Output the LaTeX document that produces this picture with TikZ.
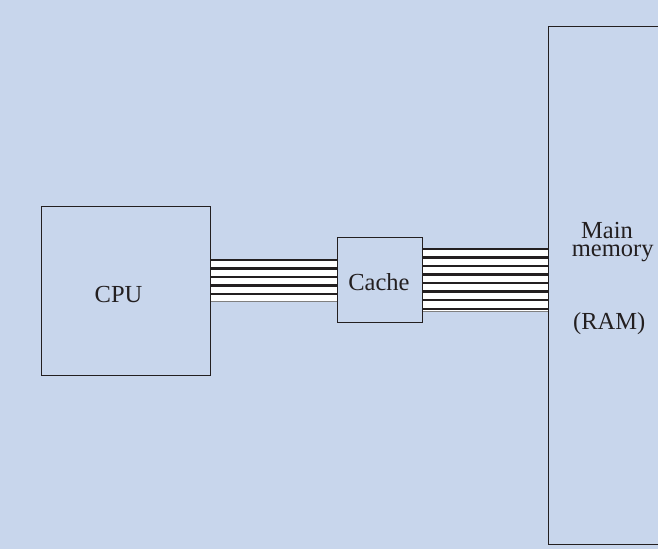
\documentclass[tikz,border=0pt]{standalone}
\usepackage{fontspec}
\setmainfont{Liberation Serif}
\definecolor{bg}{RGB}{200,214,236}
\definecolor{ink}{RGB}{35,31,32}
\definecolor{wiregray}{RGB}{128,128,128}
\begin{document}
\begin{tikzpicture}[x=1bp,y=-1bp,
  box/.style={draw=ink, line width=1bp, inner sep=0, outer sep=0},
  wire/.style={draw=ink, line width=2.3bp},
  edgewire/.style={draw=wiregray, line width=1.3bp},
  tx/.style={font=\fontsize{24.5bp}{24.5bp}\selectfont, text=ink, inner sep=0, anchor=base}]
\useasboundingbox (0,0) rectangle (658,549);
\fill[bg] (0,0) rectangle (658,549);
% boxes
\node[box, minimum width=169bp, minimum height=168.6bp] (cpu) at (125.8,291) {};
\node[box, minimum width=84.7bp, minimum height=84.7bp] (cache) at (379.65,280.35) {};
\node[box, minimum width=151.5bp, minimum height=517bp] (mem) at (624.25,285.5) {};
% bus CPU - cache
\coordinate (b1t) at (0,260);
\coordinate (b1b) at (0,301.5);
\fill[white] (cpu.east |- b1t) rectangle (cache.west |- b1b);
\foreach \y [count=\i] in {260,268.5,277,285.5,294} {
  \coordinate (w\i) at (0,\y);
  \draw[wire] (cpu.east |- w\i) -- (cache.west |- w\i);
}
\draw[edgewire] (cpu.east |- b1b) -- (cache.west |- b1b);
% bus cache - memory
\coordinate (b2t) at (0,249);
\coordinate (b2b) at (0,311.5);
\fill[white] (cache.east |- b2t) rectangle (mem.west |- b2b);
\foreach \y [count=\i] in {249,257.5,266,274.5,283,291.5,300,309} {
  \coordinate (v\i) at (0,\y);
  \draw[wire] (cache.east |- v\i) -- (mem.west |- v\i);
}
\draw[edgewire] (cache.east |- b2b) -- (mem.west |- b2b);
% redraw box borders on top
\draw[ink, line width=1bp] (cpu.north east) -- (cpu.south east);
\draw[ink, line width=1bp] (cache.north west) -- (cache.south west);
\draw[ink, line width=1bp] (cache.north east) -- (cache.south east);
\draw[ink, line width=1bp] (mem.north west) -- (mem.south west);
% labels
\node[tx] (cputext) at (118.5,302.3) {CPU};
\node[tx] (cachetext) at (379,290.7) {Cache};
\node[tx] (maintext) at (607,238.8) {Main};
\node[tx] (memtext) at (612.7,256.7) {memory};
\node[tx] (ramtext) at (609.2,329.3) {(RAM)};
\end{tikzpicture}
\end{document}
